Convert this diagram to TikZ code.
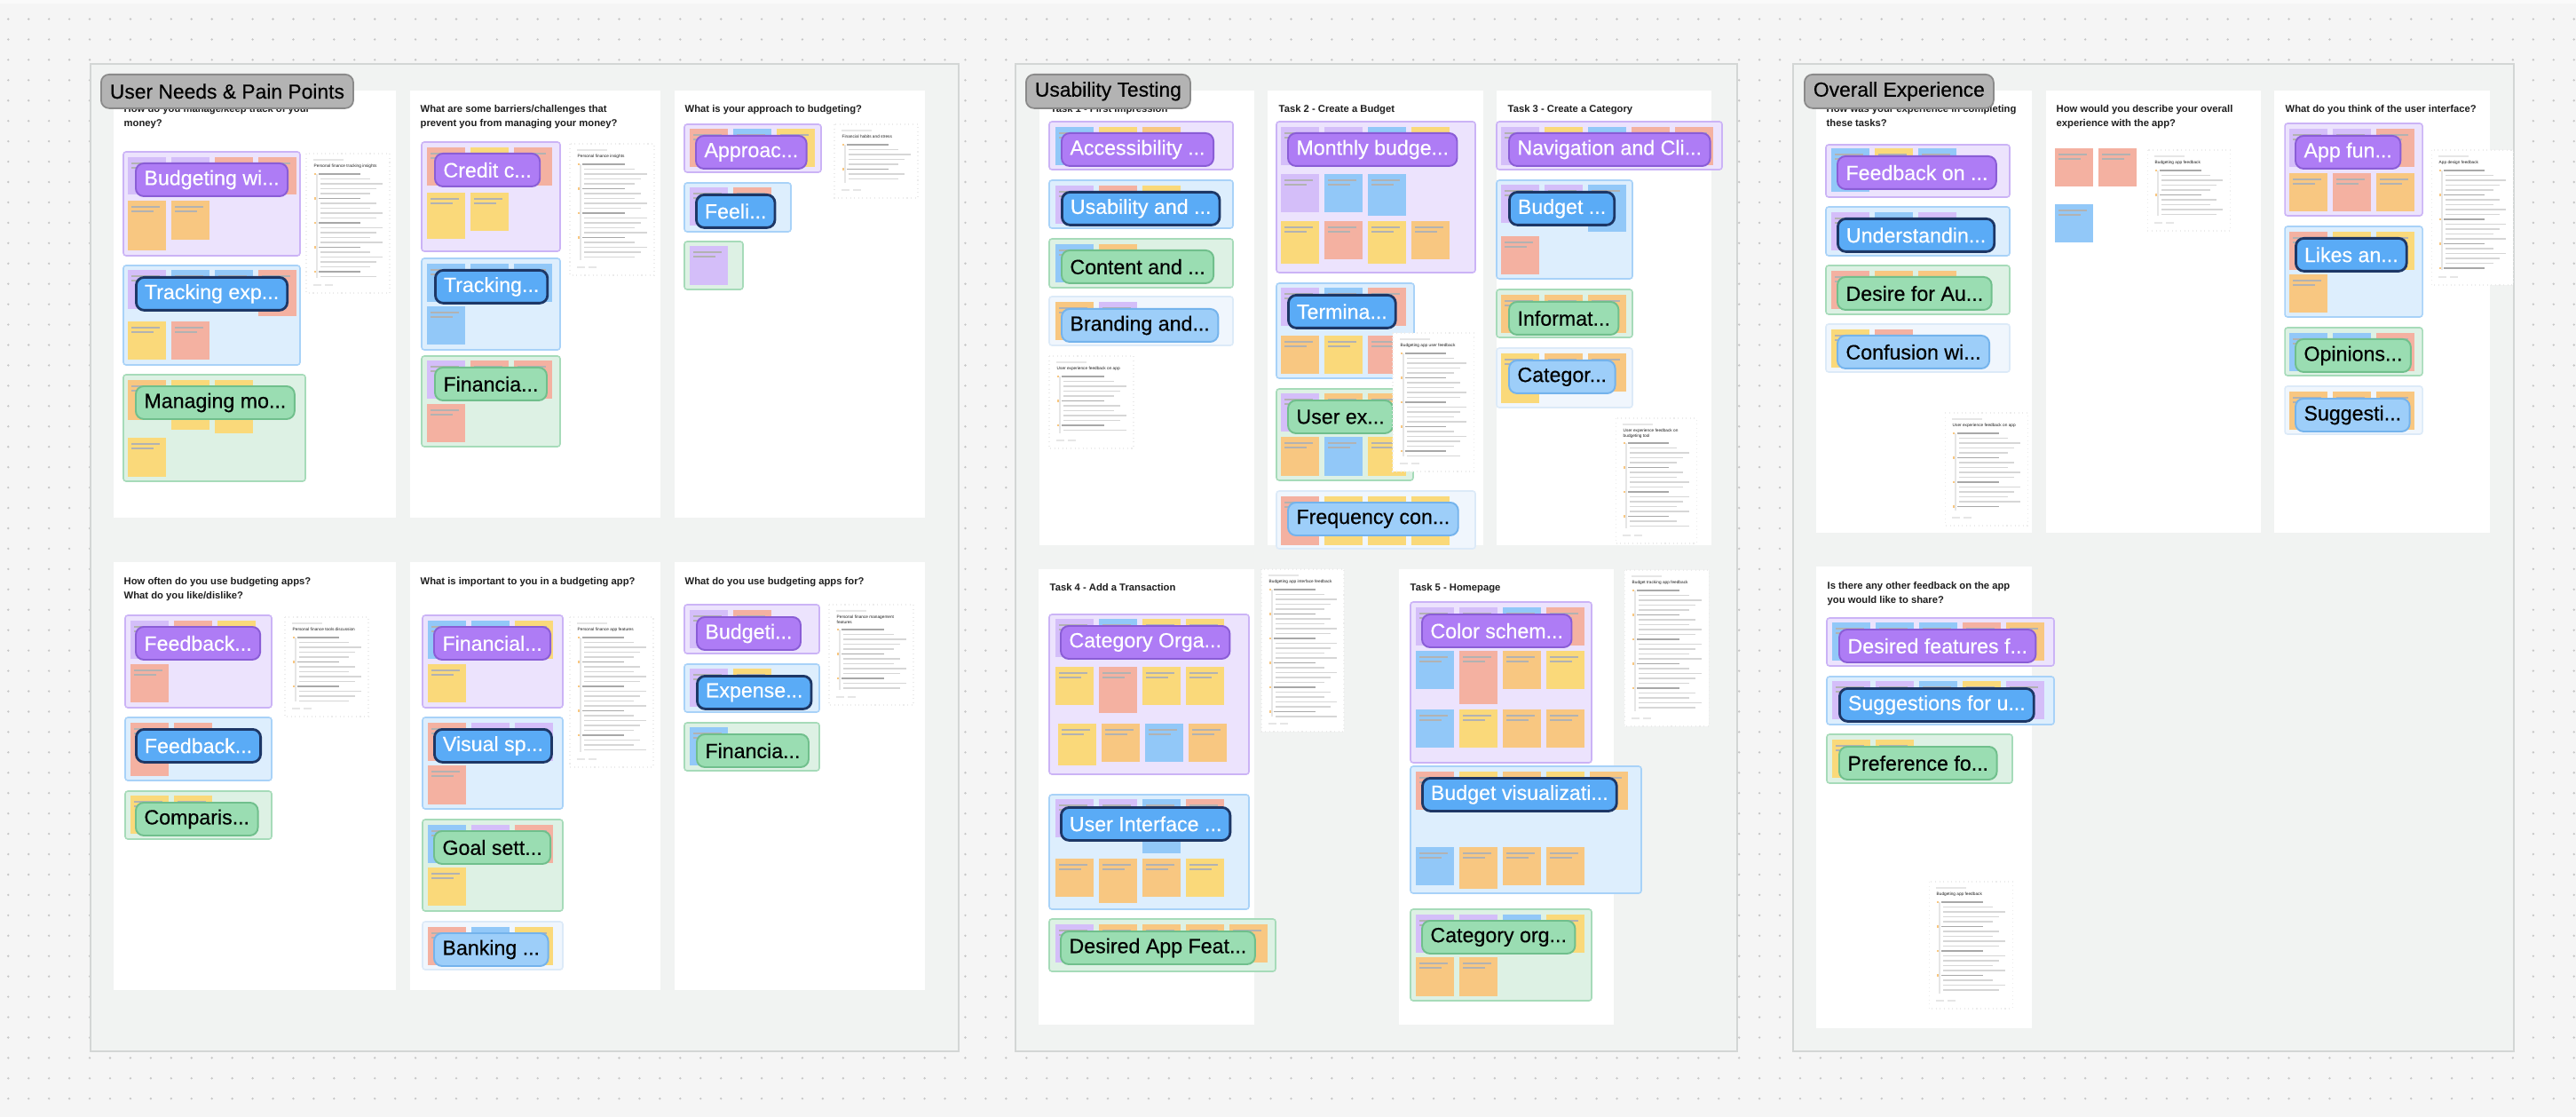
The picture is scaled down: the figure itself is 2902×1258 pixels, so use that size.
\documentclass[tikz,border=0pt]{standalone}
\usepackage{fontspec}
\setmainfont{Liberation Sans}
\newfontfamily\medfont[FakeBold=0.35]{Liberation Sans}
\usetikzlibrary{positioning}
\definecolor{Canvas}{HTML}{F5F5F5}
\definecolor{Dot}{HTML}{C6C6C6}
\definecolor{TopBar}{HTML}{FAFAFA}
\definecolor{Section}{HTML}{F1F3F2}
\definecolor{SectionLine}{HTML}{D3D6D5}
\definecolor{HeadFill}{HTML}{B3B3B3}
\definecolor{HeadLine}{HTML}{8A8A8A}
\definecolor{Ink}{HTML}{1E1E1E}
\definecolor{PurpleBg}{HTML}{ECE3FD}
\definecolor{PurpleEdge}{HTML}{CBB3F6}
\definecolor{BlueBg}{HTML}{DDEEFD}
\definecolor{BlueEdge}{HTML}{A8D2F8}
\definecolor{GreenBg}{HTML}{DDF1E4}
\definecolor{GreenEdge}{HTML}{A6DBB9}
\definecolor{PaleBg}{HTML}{F0F6FD}
\definecolor{PaleEdge}{HTML}{DCEAF8}
\definecolor{PurplePill}{HTML}{AE7CF5}
\definecolor{PurplePillEdge}{HTML}{8A5DD6}
\definecolor{BluePill}{HTML}{5AABF6}
\definecolor{BluePillEdge}{HTML}{1D3766}
\definecolor{GreenPill}{HTML}{9ADDB2}
\definecolor{GreenPillEdge}{HTML}{70BF8C}
\definecolor{PalePill}{HTML}{9DCEF9}
\definecolor{PalePillEdge}{HTML}{74B3EC}
\definecolor{lav}{HTML}{D4BEF9}
\definecolor{blu}{HTML}{92C8F8}
\definecolor{sal}{HTML}{F4B1A1}
\definecolor{yel}{HTML}{FAD97A}
\definecolor{ora}{HTML}{F8C781}
\definecolor{DocEdge}{HTML}{EBEBEB}
\definecolor{DocLine}{HTML}{D6D6D6}
\definecolor{DocBold}{HTML}{A8A8A8}
\definecolor{DocFaint}{HTML}{E6E6E6}
\tikzset{
  dotrow/.style={draw=Dot, line width=0.75pt, line cap=round, dash pattern=on 0pt off 6.527pt},
  sec/.style={fill=Section, draw=SectionLine, line width=0.45pt},
  panel/.style={fill=white},
  head/.style={anchor=north west, fill=HeadFill, draw=HeadLine, rounded corners=0.9mm,
               minimum height=3.8mm, inner xsep=1mm, inner ysep=0pt, line width=0.5pt,
               font=\medfont\fontsize{6.5}{7}\selectfont, text=black},
  ques/.style={anchor=north west, inner sep=0pt, align=left, text=Ink,
               font=\bfseries\fontsize{3.2}{4.55}\selectfont},
  cp/.style={fill=PurpleBg, draw=PurpleEdge, line width=0.45pt, rounded corners=0.3mm},
  cb/.style={fill=BlueBg, draw=BlueEdge, line width=0.45pt, rounded corners=0.3mm},
  cg/.style={fill=GreenBg, draw=GreenEdge, line width=0.45pt, rounded corners=0.3mm},
  cl/.style={fill=PaleBg, draw=PaleEdge, line width=0.45pt, rounded corners=0.3mm},
  stline/.style={draw=black!30, line width=0.3pt},
  pill/.style={anchor=north west, rounded corners=0.9mm, minimum height=3.7mm,
               inner xsep=0.95mm, inner ysep=0pt, line width=0.55pt,
               font=\medfont\fontsize{6.6}{7}\selectfont},
  pp/.style={pill, fill=PurplePill, draw=PurplePillEdge, text=white},
  pb/.style={pill, fill=BluePill, draw=BluePillEdge, text=white, line width=0.8pt},
  pg/.style={pill, fill=GreenPill, draw=GreenPillEdge, text=black},
  pl/.style={pill, fill=PalePill, draw=PalePillEdge, text=black},
  docbox/.style={fill=white, draw=DocEdge, line width=0.3pt, densely dotted},
  doctitle/.style={anchor=north west, inner sep=0pt, align=left, text=Ink,
                   font=\fontsize{1.35}{1.9}\selectfont},
  docline/.style={draw=DocLine, line width=0.4pt},
  docbold/.style={draw=DocBold, line width=0.45pt},
  docfaint/.style={draw=DocFaint, line width=0.4pt},
  docicon/.style={fill=ora},
}
% cluster box: style, x1, y1, x2, y2
\newcommand{\clus}[5]{\filldraw[#1] (#2,#3) rectangle (#4,#5);}
% row of stickies: x, y, colour/height list
\newcommand{\strow}[3]{%
  \foreach \col/\hh [count=\i from 0] in {#3}{%
    \fill[\col] ({#1+49*\i},#2) rectangle ++(43,\hh);
    \draw[stline] ({#1+49*\i+4},{#2+7}) -- ++(32,0) ++(-32,5) -- ++(25,0);
  }}
% label pill: name, style, x, y, text
\newcommand{\pill}[5]{\node[#2] (#1) at (#3,#4) {#5};}
% summary card: name, x1, y1, x2, y2, title, first line offset
\newcommand{\doc}[7]{%
  \filldraw[docbox] (#2,#3) rectangle (#4,#5);
  \draw[docfaint] ({#2+8},{#3+7}) -- ++(34,0);
  \node[doctitle] (#1) at ({#2+8},{#3+11}) {#6};
  \pgfmathsetmacro{\ya}{#3+#7}
  \pgfmathsetmacro{\yb}{#3+#7+5.5}
  \pgfmathsetmacro{\yc}{#5-17}
  \draw[docfaint] ({#2+12},\ya) -- ({#2+12},\yc);
  \foreach \yy [count=\k] in {\ya,\yb,...,\yc}{%
    \pgfmathtruncatemacro{\m}{mod(\k,5)}
    \ifnum\m=1
      \fill[docicon] ({#2+9},{\yy-1.2}) rectangle ++(2.4,2.4);
      \draw[docbold] ({#2+14},\yy) -- ++({0.5*(#4-#2)},0);
    \else
      \draw[docline] ({#2+16},\yy) -- ({#4-8-7*mod(\k,3)},\yy);
    \fi}
  \draw[docfaint] ({#2+8},{#5-9}) -- ++(9,0) ({#2+21},{#5-9}) -- ++(9,0);}

\begin{document}
\begin{tikzpicture}[x=0.1mm, y=-0.1mm]
  \useasboundingbox (0,0) rectangle (2902,1258);
  \fill[Canvas] (0,0) rectangle (2902,1258);
  \foreach \r in {-1,...,54}
    \draw[dotrow] (9.3,{21.5+22.94*\r}) -- (2902,{21.5+22.94*\r});
  \fill[TopBar] (0,0) rectangle (2902,4);

  % sections
  \filldraw[sec] (102,72) rectangle (1080,1184);
  \filldraw[sec] (1144,72) rectangle (1957,1184);
  \filldraw[sec] (2020,72) rectangle (2832,1184);

  % question panels
  \foreach \xa/\ya/\xb/\yb in {128/102/446/583, 462/102/744/583, 760/102/1042/583,
      128/633/446/1115, 462/633/744/1115, 760/633/1042/1115,
      1171/102/1413/614, 1428/102/1671/614, 1686/102/1928/614,
      1170/641/1413/1154, 1576/641/1818/1154,
      2046/102/2289/600, 2305/102/2547/600, 2562/102/2805/600, 2046/638/2289/1158}
    \fill[panel] (\xa,\ya) rectangle (\xb,\yb);

  \node[ques] (qTrack) at (139,118) {How do you manage/keep track of your\\money?};
  \node[ques] (qBarriers) at (473,118) {What are some barriers/challenges that\\prevent you from managing your money?};
  \node[ques] (qApproach) at (771,118) {What is your approach to budgeting?};
  \node[ques] (qOften) at (139,650) {How often do you use budgeting apps?\\What do you like/dislike?};
  \node[ques] (qImportant) at (473,650) {What is important to you in a budgeting app?};
  \node[ques] (qUseFor) at (771,650) {What do you use budgeting apps for?};
  \node[ques] (qTaskA) at (1183,118) {Task 1 - First Impression};
  \node[ques] (qTaskB) at (1440,118) {Task 2 - Create a Budget};
  \node[ques] (qTaskC) at (1698,118) {Task 3 - Create a Category};
  \node[ques] (qTaskD) at (1182,657) {Task 4 - Add a Transaction};
  \node[ques] (qTaskE) at (1588,657) {Task 5 - Homepage};
  \node[ques] (qTasks) at (2057,118) {How was your experience in completing\\these tasks?};
  \node[ques] (qOverall) at (2316,118) {How would you describe your overall\\experience with the app?};
  \node[ques] (qInterface) at (2574,118) {What do you think of the user interface?};
  \node[ques] (qOther) at (2058,655) {Is there any other feedback on the app\\you would like to share?};

  % User Needs & Pain Points
  \clus{cp}{139}{171}{338}{288}
  \strow{144}{177}{lav/42,lav/42,sal/42,sal/42}
  \strow{144}{226}{ora/56,ora/44}
  \pill{lBudgetingWith}{pp}{152}{183}{Budgeting wi...}
  \clus{cb}{139}{299}{338}{411}
  \strow{144}{304}{lav/44,blu/44,blu/44,sal/52}
  \strow{144}{362}{yel/43,sal/43}
  \pill{lTrackingExp}{pb}{152}{311}{Tracking exp...}
  \clus{cg}{139}{422}{344}{542}
  \strow{144}{428}{ora/45,yel/56,yel/60}
  \strow{144}{493}{yel/44}
  \pill{lManaging}{pg}{152}{434}{Managing mo...}
  \doc{dTracking}{345}{173}{439}{330}{Personal finance tracking insights}{23}

  \clus{cp}{475}{160}{631}{283}
  \strow{481}{166}{sal/43,yel/43,sal/43}
  \strow{481}{217}{yel/52,yel/43}
  \pill{lCredit}{pp}{489}{172}{Credit c...}
  \clus{cb}{475}{291}{631}{394}
  \strow{481}{297}{blu/43,blu/43,blu/43}
  \strow{481}{345}{blu/43}
  \pill{lTracking}{pb}{489}{303}{Tracking...}
  \clus{cg}{475}{401}{631}{503}
  \strow{481}{406}{lav/43,sal/43,sal/43}
  \strow{481}{455}{sal/43}
  \pill{lFinancialA}{pg}{489}{413}{Financia...}
  \doc{dInsights}{642}{162}{737}{310}{Personal finance insights}{23}

  \clus{cp}{771}{140}{925}{194}
  \strow{777}{145}{sal/43,blu/43,yel/43}
  \pill{lApproach}{pp}{783}{152}{Approac...}
  \clus{cb}{771}{206}{891}{261}
  \strow{777}{211}{lav/43,sal/43}
  \pill{lFeeling}{pb}{783}{218}{Feeli...}
  \clus{cg}{771}{272}{837}{326}
  \strow{777}{277}{lav/44}
  \doc{dHabits}{940}{140}{1034}{223}{Financial habits and stress}{23}

  \clus{cp}{141}{693}{306}{797}
  \strow{147}{699}{lav/43,sal/43,yel/43}
  \strow{147}{748}{sal/43}
  \pill{lFeedbackA}{pp}{152}{705}{Feedback...}
  \clus{cb}{141}{808}{306}{879}
  \strow{147}{814}{sal/60,sal/43}
  \pill{lFeedbackB}{pb}{152}{820}{Feedback...}
  \clus{cg}{141}{891}{306}{945}
  \strow{147}{896}{yel/43,yel/43}
  \pill{lComparison}{pg}{152}{903}{Comparis...}
  \doc{dTools}{321}{695}{415}{807}{Personal finance tools discussion}{23}

  \clus{cp}{476}{693}{634}{797}
  \strow{482}{699}{blu/43,blu/43,yel/43}
  \strow{482}{748}{yel/43}
  \pill{lFinancialB}{pp}{488}{705}{Financial...}
  \clus{cb}{476}{808}{634}{911}
  \strow{482}{814}{sal/43,lav/43,lav/43}
  \strow{482}{862}{sal/44}
  \pill{lVisual}{pb}{488}{820}{Visual sp...}
  \clus{cg}{476}{923}{634}{1026}
  \strow{482}{929}{blu/43,lav/43,sal/43}
  \strow{482}{977}{yel/43}
  \pill{lGoal}{pg}{488}{935}{Goal sett...}
  \clus{cl}{476}{1038}{634}{1092}
  \strow{482}{1044}{sal/43,blu/43,yel/43}
  \pill{lBanking}{pl}{488}{1050}{Banking ...}
  \doc{dFeatures}{642}{695}{736}{864}{Personal finance app features}{23}

  \clus{cp}{771}{681}{923}{736}
  \strow{777}{687}{lav/43,sal/43}
  \pill{lBudgeting}{pp}{784}{694}{Budgeti...}
  \clus{cb}{771}{748}{923}{802}
  \strow{777}{753}{lav/43,yel/43}
  \pill{lExpense}{pb}{784}{760}{Expense...}
  \clus{cg}{771}{814}{923}{868}
  \strow{777}{819}{blu/43}
  \pill{lFinancialC}{pg}{784}{826}{Financia...}
  \doc{dManagement}{934}{681}{1029}{794}{Personal finance management\\features}{28}

  % Usability Testing
  \clus{cp}{1182}{137}{1389}{191}
  \strow{1189}{143}{blu/43,yel/43,ora/43}
  \pill{lAccessibility}{pp}{1195}{149}{Accessibility ...}
  \clus{cb}{1182}{203}{1389}{257}
  \strow{1189}{209}{lav/43,sal/43,yel/43}
  \pill{lUsability}{pb}{1195}{215}{Usability and ...}
  \clus{cg}{1182}{269}{1389}{324}
  \strow{1189}{275}{blu/43,ora/43}
  \pill{lContent}{pg}{1195}{281}{Content and ...}
  \clus{cl}{1182}{334}{1389}{389}
  \strow{1189}{340}{ora/43,lav/43}
  \pill{lBranding}{pl}{1195}{347}{Branding and...}
  \doc{dFirst}{1182}{401}{1277}{505}{User experience feedback on app}{23}

  \clus{cp}{1438}{137}{1662}{307}
  \strow{1443}{143}{lav/43,lav/43,blu/43,yel/43}
  \strow{1443}{196}{lav/43,blu/43,blu/47}
  \strow{1443}{249}{yel/48,sal/43,yel/48,ora/43}
  \pill{lMonthly}{pp}{1450}{149}{Monthly budge...}
  \clus{cb}{1438}{319}{1593}{426}
  \strow{1443}{324}{lav/43,blu/43,sal/43}
  \strow{1443}{378}{ora/43,yel/43,sal/43}
  \pill{lTerminology}{pb}{1450}{331}{Termina...}
  \clus{cg}{1438}{438}{1592}{541}
  \strow{1443}{443}{lav/43,ora/43,ora/43}
  \strow{1443}{492}{ora/44,blu/44,yel/44}
  \pill{lUserExp}{pg}{1450}{450}{User ex...}
  \clus{cl}{1438}{553}{1662}{618}
  \strow{1443}{559}{sal/55,yel/55,yel/55,yel/55}
  \pill{lFrequency}{pl}{1450}{565}{Frequency con...}
  \doc{dCreate}{1569}{375}{1660}{531}{Budgeting app user feedback}{23}

  \clus{cp}{1686}{137}{1940}{191}
  \strow{1691}{143}{lav/43,yel/43,blu/43,sal/43,sal/43}
  \pill{lNavigation}{pp}{1699}{149}{Navigation and Cli...}
  \clus{cb}{1686}{203}{1839}{314}
  \strow{1691}{208}{lav/43,lav/43,blu/53}
  \strow{1691}{266}{sal/43}
  \pill{lBudgetC}{pb}{1699}{215}{Budget ...}
  \clus{cg}{1686}{326}{1839}{380}
  \strow{1691}{332}{ora/43,ora/43,ora/43}
  \pill{lInformation}{pg}{1699}{339}{Informat...}
  \clus{cl}{1686}{392}{1839}{459}
  \strow{1691}{398}{yel/56,ora/43,ora/43}
  \pill{lCategory}{pl}{1699}{405}{Categor...}
  \doc{dCategory}{1820}{471}{1911}{612}{User experience feedback on\\budgeting tool}{28}

  \clus{cp}{1182}{692}{1407}{872}
  \strow{1189}{697}{lav/43,blu/43,yel/43,yel/43}
  \strow{1189}{751}{yel/43,sal/52,yel/43,yel/43}
  \strow{1192}{815}{yel/47,ora/43,blu/43,ora/43}
  \pill{lCategoryOrga}{pp}{1194}{704}{Category Orga...}
  \clus{cb}{1182}{895}{1407}{1024}
  \strow{1189}{900}{lav/43,lav/43,blu/61,sal/43}
  \strow{1189}{967}{ora/43,ora/50,ora/43,yel/43}
  \pill{lInterface}{pb}{1194}{908}{User Interface ...}
  \clus{cg}{1182}{1035}{1437}{1094}
  \strow{1189}{1041}{lav/43,ora/43,ora/43,ora/43,ora/43}
  \pill{lDesiredApp}{pg}{1194}{1048}{Desired App Feat...}
  \doc{dTransaction}{1421}{641}{1514}{824}{Budgeting app interface feedback}{23}

  \clus{cp}{1589}{678}{1793}{859}
  \strow{1595}{684}{lav/43,lav/43,blu/43,sal/43}
  \strow{1595}{733}{blu/43,sal/60,ora/43,yel/43}
  \strow{1595}{799}{blu/43,yel/43,ora/43,ora/43}
  \pill{lColour}{pp}{1601}{691}{Color schem...}
  \clus{cb}{1589}{863}{1849}{1006}
  \strow{1595}{869}{sal/43,yel/43,ora/43,yel/43,ora/43}
  \strow{1595}{954}{blu/43,ora/47,ora/43,ora/43}
  \pill{lVisualization}{pb}{1601}{875}{Budget visualizati...}
  \clus{cg}{1589}{1024}{1793}{1127}
  \strow{1595}{1030}{lav/43,lav/43,blu/43,yel/43}
  \strow{1595}{1078}{ora/44,ora/44}
  \pill{lCategoryOrg}{pg}{1601}{1036}{Category org...}
  \doc{dHomepage}{1830}{642}{1925}{818}{Budget tracking app feedback}{23}

  % Overall Experience
  \clus{cp}{2057}{163}{2264}{222}
  \strow{2063}{167}{blu/49,yel/43,blu/43}
  \pill{lFeedbackOn}{pp}{2069}{175}{Feedback on ...}
  \clus{cb}{2057}{233}{2264}{288}
  \strow{2063}{239}{lav/43,blu/43,lav/43}
  \pill{lUnderstanding}{pb}{2069}{245}{Understandin...}
  \clus{cg}{2057}{299}{2264}{354}
  \strow{2063}{305}{sal/43,ora/43,ora/43}
  \pill{lDesireAuto}{pg}{2069}{311}{Desire for Au...}
  \clus{cl}{2057}{365}{2264}{419}
  \strow{2063}{371}{yel/43,sal/43}
  \pill{lConfusion}{pl}{2069}{377}{Confusion wi...}
  \doc{dTasks}{2191}{465}{2284}{592}{User experience feedback on app}{23}

  \strow{2315}{167}{sal/43,sal/43}
  \strow{2315}{230}{blu/43}
  \doc{dOverall}{2419}{169}{2512}{260}{Budgeting app feedback}{23}

  \clus{cp}{2574}{139}{2729}{243}
  \strow{2579}{145}{lav/43,lav/43,sal/43}
  \strow{2579}{195}{ora/43,sal/43,ora/43}
  \pill{lAppFun}{pp}{2585}{152}{App fun...}
  \clus{cb}{2574}{255}{2729}{357}
  \strow{2579}{261}{sal/43,yel/43,yel/43}
  \strow{2579}{309}{ora/43}
  \pill{lLikes}{pb}{2585}{267}{Likes an...}
  \clus{cg}{2574}{369}{2729}{423}
  \strow{2579}{375}{blu/43,blu/43,sal/43}
  \pill{lOpinions}{pg}{2585}{381}{Opinions...}
  \clus{cl}{2574}{435}{2729}{489}
  \strow{2579}{441}{ora/43,ora/43,ora/43}
  \pill{lSuggestions}{pl}{2585}{448}{Suggesti...}
  \doc{dDesign}{2739}{169}{2831}{321}{App design feedback}{23}

  \clus{cp}{2058}{696}{2314}{750}
  \strow{2064}{701}{blu/43,blu/43,blu/43,sal/43,ora/43}
  \pill{lDesiredFeat}{pp}{2071}{708}{Desired features f...}
  \clus{cb}{2058}{762}{2314}{816}
  \strow{2064}{767}{lav/43,lav/43,blu/43,yel/43,lav/43}
  \pill{lSuggestFor}{pb}{2071}{774}{Suggestions for u...}
  \clus{cg}{2058}{827}{2267}{882}
  \strow{2064}{833}{yel/43,yel/43}
  \pill{lPreference}{pg}{2071}{840}{Preference fo...}
  \doc{dOther}{2173}{993}{2267}{1136}{Budgeting app feedback}{23}

  % section headers
  \node[head] (hNeeds) at (113,83) {User Needs \& Pain Points};
  \node[head] (hTesting) at (1155,83) {Usability Testing};
  \node[head] (hExperience) at (2032,83) {Overall Experience};
\end{tikzpicture}
\end{document}
